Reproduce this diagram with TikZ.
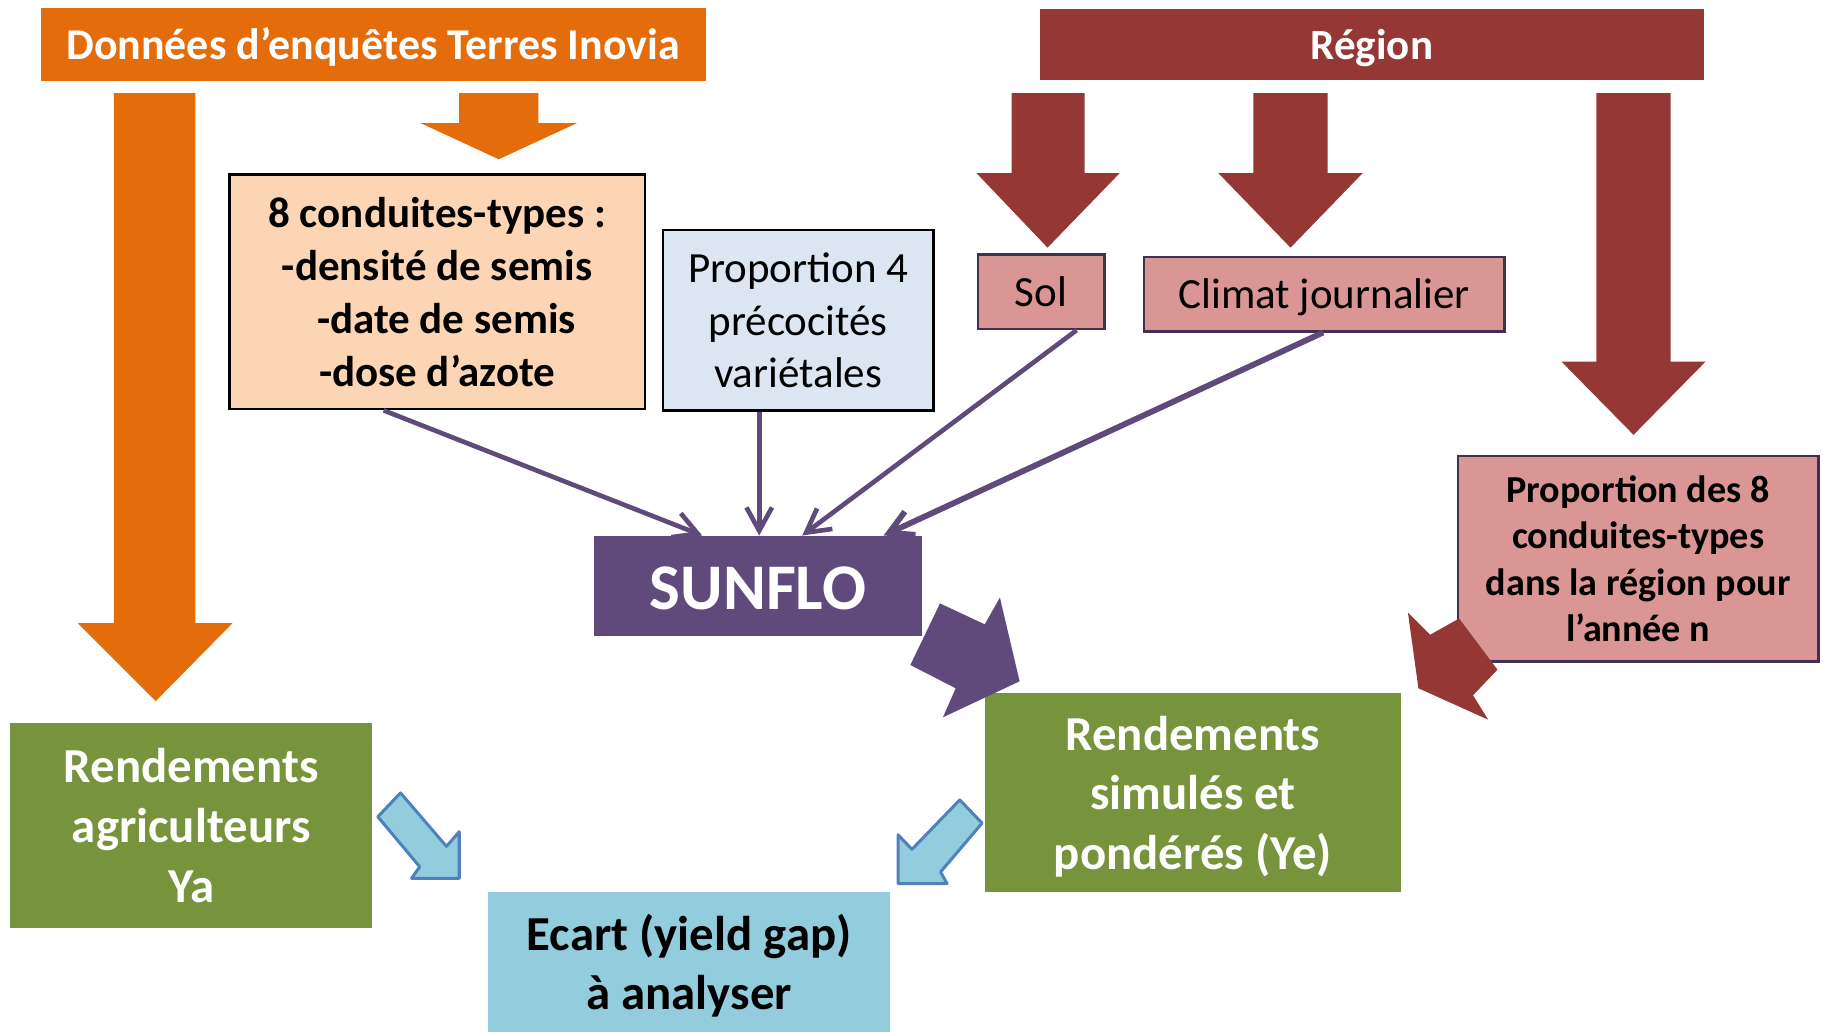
\documentclass[tikz,border=0pt]{standalone}
\usepackage{fontspec}
\setmainfont{Carlito}
\usetikzlibrary{arrows.meta,calc}
\definecolor{orng}{HTML}{E46C0A}
\definecolor{dred}{HTML}{953735}
\definecolor{peach}{HTML}{FCD5B5}
\definecolor{paleblue}{HTML}{DCE6F2}
\definecolor{pinkb}{HTML}{D99694}
\definecolor{purp}{HTML}{604A7B}
\definecolor{grn}{HTML}{77933C}
\definecolor{ltb}{HTML}{93CDDD}
\definecolor{blu}{HTML}{4F81BD}
\definecolor{navy}{HTML}{403152}
\newcommand{\dn}[2]{\raisebox{-#1}[\height][\depth]{#2}}
\begin{document}
\begin{tikzpicture}[x=0.5pt,y=-0.5pt,
  box/.style={inner sep=0pt, align=center},
  conn/.style={draw=purp, line width=2pt, -{Straight Barb[length=10pt,width=11pt]}},
  pinkbox/.style={box, fill=pinkb, draw=navy, line width=1pt},
  greenbox/.style={box, fill=grn, text=white, font=\fontsize{21}{25.5}\selectfont\bfseries}]
\useasboundingbox (0,0) rectangle (1568,887);

% boxes
\node[box, fill=orng, text=white, minimum width=286pt, minimum height=31.5pt,
      font=\fontsize{18.9}{22}\selectfont\bfseries] (title) at (321,38)
      {\dn{1.2pt}{Données d’enquêtes Terres Inovia}};
\node[box, fill=dred, text=white, minimum width=285.5pt, minimum height=30.5pt,
      font=\fontsize{18.5}{22}\selectfont\bfseries] (region) at (1180,38)
      {\dn{1.5pt}{Région}};
\node[box, fill=peach, draw=black, line width=1pt, minimum width=178.5pt, minimum height=101pt,
      font=\fontsize{18.5}{22.75}\selectfont\bfseries] (c8) at (376,251)
      {8 conduites-types :\\-densité de semis\\\hspace*{8pt}-date de semis\\-dose d’azote};
\node[box, fill=paleblue, draw=black, line width=1pt, minimum width=116.5pt, minimum height=77.5pt,
      font=\fontsize{18.5}{22.5}\selectfont] (prop4) at (686.5,275.5)
      {Proportion 4\\précocités\\variétales};
\node[pinkbox, minimum width=54.5pt, minimum height=32pt, font=\fontsize{18.5}{22}\selectfont] (sol) at (895.5,251) {Sol};
\node[pinkbox, minimum width=155pt, minimum height=32pt, font=\fontsize{18.5}{22}\selectfont] (climat) at (1139,253)
      {\dn{1.5pt}{Climat journalier}};
\node[pinkbox, minimum width=155pt, minimum height=88.5pt, font=\fontsize{16.4}{20}\selectfont\bfseries] (prop8) at (1409,480.5)
      {Proportion des 8\\conduites-types\\dans la région pour\\l’année n};
\node[box, fill=purp, text=white, minimum width=141pt, minimum height=43pt,
      font=\fontsize{28}{30}\selectfont\bfseries] (sunflo) at (652,504) {\dn{1pt}{SUNFLO}};
\node[greenbox, minimum width=179pt, minimum height=85.5pt] (rsim) at (1026,681.5)
      {\dn{1.8pt}{Rendements}\\\dn{1.8pt}{simulés et}\\\dn{1.8pt}{pondérés (Ye)}};
\node[greenbox, minimum width=155.75pt, minimum height=88.25pt, font=\fontsize{21}{25.75}\selectfont\bfseries] (ragr) at (164.5,710)
      {Rendements\\agriculteurs\\Ya};
\node[box, fill=ltb, minimum width=173pt, minimum height=60pt,
      font=\fontsize{21}{25.5}\selectfont\bfseries] (ecart) at (592.7,827.5)
      {\dn{1.5pt}{Ecart (yield gap)}\\\dn{1.5pt}{à analyser}};

% block arrows
\fill[orng] (98,80) -- (168,80) -- (168,536) -- (200,536) -- (134,603) -- (67,536) -- (98,536) -- cycle;
\fill[orng] (395,80) -- (463,80) -- (463,106) -- (496,106) -- (429,137) -- (362,106) -- (395,106) -- cycle;
\fill[dred] (870,80) -- (933,80) -- (933,149) -- (963,149) -- (901,213) -- (840,149) -- (870,149) -- cycle;
\fill[dred] (1078,80) -- (1142,80) -- (1142,149) -- (1172,149) -- (1110,213) -- (1048,149) -- (1078,149) -- cycle;
\fill[dred] (1373,80) -- (1437,80) -- (1437,311) -- (1467,311) -- (1405,374) -- (1343,311) -- (1373,311) -- cycle;
\fill[purp] (783,572) -- (808.5,519) -- (847,537) -- (860,514) -- (877,586) -- (811,617) -- (822,592) -- cycle;
\fill[dred] (1211,527) -- (1230,546) -- (1255,532) -- (1288,576) -- (1267,598) -- (1280,619) -- (1220,592) -- cycle;
\filldraw[fill=ltb, draw=blu, line width=1.3pt, line join=round]
  (344.5,682) -- (325,702.5) -- (361,745.5) -- (354,755.5) -- (395,755.5) -- (395,715.4) -- (384,728) -- cycle;
\filldraw[fill=ltb, draw=blu, line width=1.3pt, line join=round]
  (825.5,688) -- (844.7,708) -- (809,750) -- (814.6,760) -- (772.4,760) -- (772.4,718) -- (784.4,730.5) -- cycle;

% connectors
\draw[conn] ($(c8.south)+(-46,0)$) -- ($(sunflo.north)+(-48,0)$);
\draw[conn] ($(prop4.south)+(-33.5,0)$) -- ($(sunflo.north)+(1,0)$);
\draw[conn] ($(sol.south)+(30.5,0)$) -- ($(sunflo.north)+(38,0)$);
\draw[conn, line width=2.5pt] ($(climat.south)+(-1,0)$) -- ($(sunflo.north)+(108,0)$);
\end{tikzpicture}
\end{document}
